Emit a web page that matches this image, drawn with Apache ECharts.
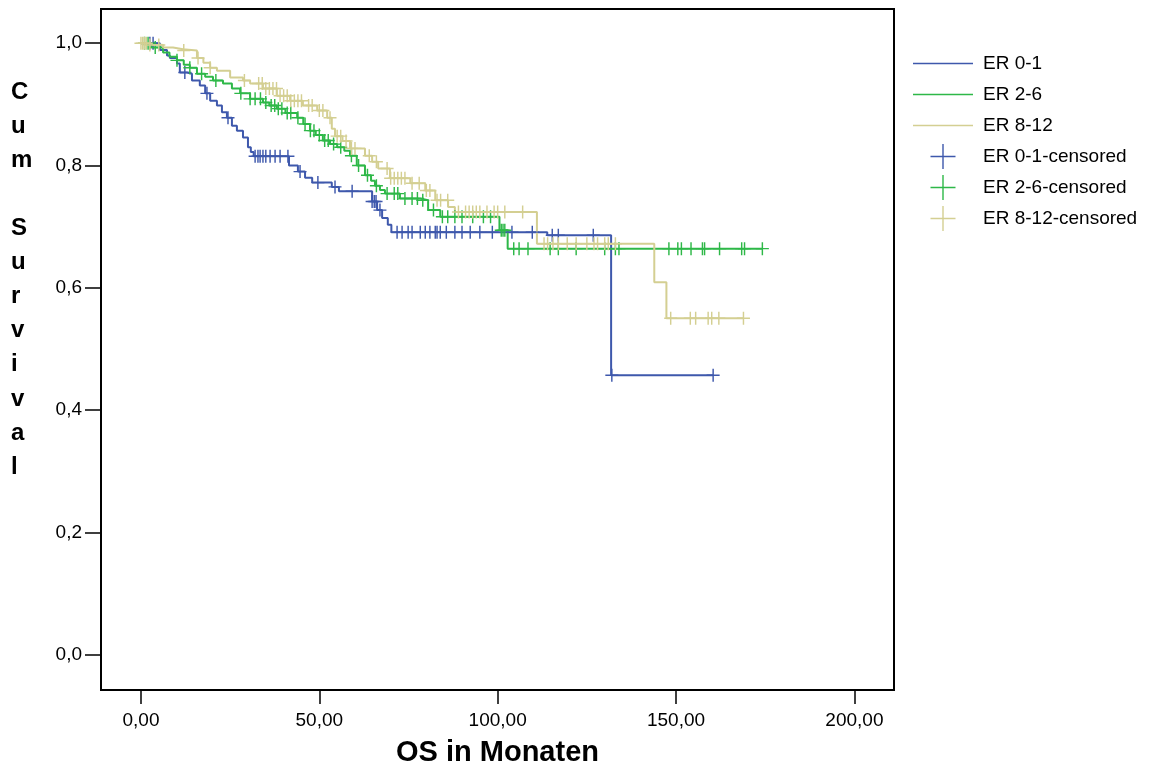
<!DOCTYPE html>
<html>
<head>
<meta charset="utf-8">
<title>Kaplan-Meier ER</title>
<script src="https://cdn.jsdelivr.net/npm/echarts@6/dist/echarts.min.js"></script>
<style>
	html, body { margin: 0; padding: 0; background: #fff; }
	#main { width: 1164px; height: 767px; }
</style>
</head>
<body>
<div id="main"></div>
<script>
/*Stufen der Kurven (Zeit in Monaten, kumulatives Überleben)*/
var blueT = [0, 5.3, 7.3, 8.1, 10.1, 10.9, 12.9, 14.3, 16.5, 18, 19.4, 21.3, 22.7, 24.1, 25.5, 26.9, 28.6, 30, 30.8, 31.6, 41.5, 44, 46, 48, 53.5, 55.5, 64.8, 66.2, 67.6, 69.2, 70.2, 113.9, 131.8, 160.4];
var blueS = [1, 0.989, 0.98, 0.976, 0.967, 0.952, 0.95, 0.939, 0.931, 0.918, 0.906, 0.898, 0.887, 0.878, 0.865, 0.857, 0.846, 0.83, 0.822, 0.815, 0.8, 0.79, 0.78, 0.772, 0.765, 0.758, 0.741, 0.727, 0.714, 0.703, 0.691, 0.686, 0.457, 0.457];

var greenT = [0, 3, 6.2, 8, 10.1, 12, 13.7, 15.7, 18, 20.2, 23, 25.5, 27.8, 30.6, 34.2, 36, 38.1, 40.5, 43.8, 45.5, 47.4, 49, 51, 53, 55, 57, 58.6, 60.5, 62.8, 64.5, 65.6, 67, 68.4, 72.6, 78.3, 80.5, 83.9, 100.5, 102.8, 174.2];
var greenS = [1, 0.993, 0.985, 0.978, 0.972, 0.965, 0.96, 0.95, 0.945, 0.939, 0.934, 0.926, 0.918, 0.909, 0.903, 0.898, 0.893, 0.886, 0.878, 0.868, 0.857, 0.85, 0.841, 0.835, 0.83, 0.824, 0.816, 0.8, 0.784, 0.775, 0.767, 0.76, 0.754, 0.746, 0.743, 0.727, 0.716, 0.694, 0.664, 0.664];

var beigeT = [0, 2, 6.2, 9, 11.8, 15.7, 17.5, 19.4, 21.3, 25, 28.6, 30.6, 34.2, 38.1, 41.8, 45.4, 49.4, 52.2, 53.5, 54.4, 56.5, 58.6, 62.8, 64.8, 66.5, 69.8, 75.5, 79.7, 82.5, 86.1, 88, 111, 143.9, 147.3, 168.9];
var beigeS = [1, 0.997, 0.993, 0.99, 0.988, 0.976, 0.968, 0.96, 0.955, 0.944, 0.939, 0.934, 0.926, 0.914, 0.906, 0.898, 0.89, 0.878, 0.86, 0.848, 0.84, 0.828, 0.816, 0.806, 0.795, 0.779, 0.771, 0.759, 0.743, 0.732, 0.724, 0.672, 0.609, 0.55, 0.55];

/*zensierte Fälle (Zeit in Monaten)*/
var blueC = [2.5, 3.4, 12.3, 18.5, 24.4, 32, 32.8, 33.4, 34.2, 35, 36.2, 37.6, 39, 41.2, 44.6, 49.6, 54.4, 59.2, 64.8, 65.4, 65.9, 67, 71.8, 73.2, 74.9, 76, 78.3, 79.7, 81, 82.5, 83, 83.9, 85.6, 88, 90, 92.3, 95, 98.5, 104, 109.7, 115.3, 117, 126.8, 132, 160.4];
var greenC = [1, 2, 4, 10.1, 13.7, 17, 21, 28, 30.6, 32, 33.5, 35, 36.5, 37.5, 38.5, 39.5, 41, 42, 44, 46, 47.5, 48.5, 50, 51.5, 52.5, 54, 56, 59, 61, 63.5, 66, 69, 71, 72, 74, 76, 77.5, 79, 82, 84.5, 86, 88, 90, 93, 96, 98, 101, 101.5, 102, 104.5, 106, 108.5, 114.7, 117, 122, 130, 133, 134, 148, 150.5, 151.5, 154.2, 157.4, 158, 162.2, 168.4, 169.2, 174.2];
var beigeC = [0, 0.5, 1, 1.5, 2.5, 5, 12, 16, 19.4, 29, 33, 34, 35, 36, 37, 38, 39, 40, 41, 42, 43, 44, 45, 47, 48, 50, 51, 53, 55, 56, 57.5, 59, 60, 64, 66, 69, 70, 71, 72, 73, 74, 76, 78, 80, 81, 83, 84, 86, 89, 91, 92, 93, 94, 95, 97, 99, 100, 102, 107, 113, 114, 115.5, 117, 119.5, 122, 125, 127, 128, 130, 131, 133, 148.5, 154, 155.5, 159, 160, 162, 168.9];

var xTicks = [0, 50, 100, 150, 200];
var yTicks = [0, 0.2, 0.4, 0.6, 0.8, 1.0];

var names = ['ER 0-1', 'ER 2-6', 'ER 8-12'];
var colors = ['#3e58ac', '#2eb848', '#d4cf92'];

/*Stufenfunktion: Wert zur Zeit t*/
function survAt(T, S, t) {
	var v = S[0];
	for (var i = 0; i < T.length; i++) {
		if (T[i] <= t) v = S[i];
	}
	return v;
}
function steps(T, S) {
	var out = [];
	for (var i = 0; i < T.length; i++) out.push([T[i], S[i]]);
	return out;
}
function marks(T, S, C) {
	var out = [];
	for (var i = 0; i < C.length; i++) out.push([C[i], survAt(T, S, C[i])]);
	return out;
}

var plus = 'path://M6,0H7.5V13.5H6Z M0,6H13.5V7.5H0Z';
var plusIcon = 'path://M11.8,0H13.2V25H11.8Z M0,11.8H25V13.2H0Z';
var lineIcon = 'path://M0,0H60V1.6H0Z';
var font = 'Liberation Sans, Arial, sans-serif';

var curves = [[blueT, blueS, blueC], [greenT, greenS, greenC], [beigeT, beigeS, beigeC]];
var series = [];
var legendData = [];
for (var k = 0; k < 3; k++) {
	series.push({
		name: names[k],
		type: 'line',
		step: 'end',
		showSymbol: false,
		data: steps(curves[k][0], curves[k][1]),
		itemStyle: { color: colors[k] },
		lineStyle: { color: colors[k], width: 2 },
		z: 3
	});
	legendData.push({ name: names[k], icon: lineIcon, itemStyle: { color: colors[k] } });
}
for (var k = 0; k < 3; k++) {
	series.push({
		name: names[k] + '-censored',
		type: 'scatter',
		symbol: plus,
		symbolSize: 13,
		data: marks(curves[k][0], curves[k][1], curves[k][2]),
		itemStyle: { color: colors[k], opacity: 1 },
		z: 4
	});
	legendData.push({ name: names[k] + '-censored', icon: plusIcon, itemStyle: { color: colors[k] } });
}

var myChart = echarts.init(document.getElementById('main'));
var option = {
	animation: false,
	backgroundColor: '#fff',
	grid: {
		show: true,
		left: 101, right: 270, top: 9, bottom: 77,
		outerBoundsMode: 'none',
		borderColor: '#000', borderWidth: 2,
		backgroundColor: '#fff'
	},
	legend: {
		orient: 'vertical',
		left: 908, top: 46,
		itemWidth: 60, itemHeight: 25, itemGap: 6,
		data: legendData,
		itemStyle: { borderWidth: 0 },
		textStyle: { fontSize: 19, lineHeight: 25, color: '#000', fontFamily: font, padding: [0, 0, 0, 5] },
		selectedMode: false
	},
	xAxis: {
		type: 'value',
		min: -11.2, max: 211.1,
		name: 'OS in Monaten',
		nameLocation: 'middle',
		nameGap: 48,
		nameTextStyle: { fontSize: 29, fontWeight: 'bold', color: '#000', fontFamily: font },
		axisLine: { show: false, onZero: false },
		splitLine: { show: false },
		axisTick: { show: true, customValues: xTicks, length: 14, lineStyle: { color: '#000', width: 1.5 } },
		axisLabel: {
			customValues: xTicks, margin: 21, fontSize: 19, color: '#000', fontFamily: font,
			formatter: function(v) { return v.toFixed(2).replace('.', ','); }
		}
	},
	yAxis: {
		type: 'value',
		min: -0.058, max: 1.056,
		axisLine: { show: false, onZero: false },
		splitLine: { show: false },
		axisTick: { show: true, customValues: yTicks, length: 16, lineStyle: { color: '#000', width: 1.5 } },
		axisLabel: {
			customValues: yTicks, margin: 19, fontSize: 19, color: '#000', fontFamily: font,
			formatter: function(v) { return v.toFixed(1).replace('.', ','); }
		}
	},
	/*senkrechte Achsenbeschriftung, Buchstaben untereinander*/
	graphic: [{
		type: 'text',
		left: 11, top: 75,
		style: {
			text: 'C\nu\nm\n\nS\nu\nr\nv\ni\nv\na\nl',
			fontSize: 24, fontWeight: 'bold', fontFamily: font,
			lineHeight: 34.1, fill: '#000', align: 'center'
		}
	}],
	series: series
};
myChart.setOption(option);
</script>
</body>
</html>
